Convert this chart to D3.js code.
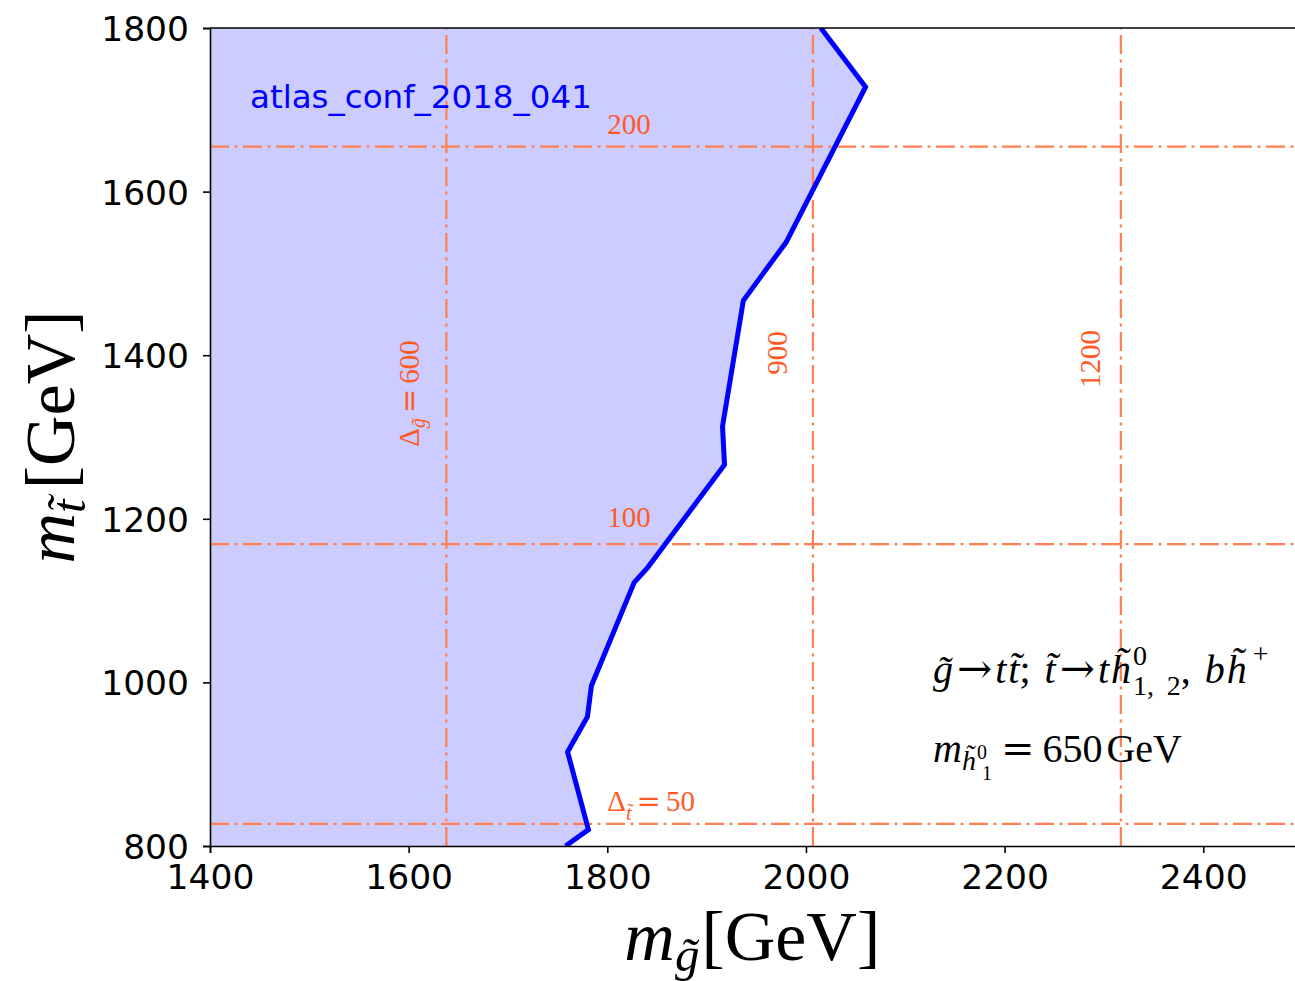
<!DOCTYPE html>
<html>
<head>
<meta charset="utf-8">
<script src="https://cdn.jsdelivr.net/npm/d3@7"></script>
<style>
  body { margin: 0; background: #fff; }
  svg { display: block; }
</style>
</head>
<body>
<svg id="chart" width="1295" height="981"></svg>
<script>
// Axis ticks
const xTicks = [1400, 1600, 1800, 2000, 2200, 2400];
const yTicks = [800, 1000, 1200, 1400, 1600, 1800];

// Exclusion contour (gluino mass, stop mass), top to bottom
const contourGluino = [2015, 2060, 1980, 1937, 1916, 1918, 1841, 1827, 1784, 1780, 1760, 1781, 1758];
const contourStop   = [1800, 1728, 1538, 1467, 1313, 1266, 1141, 1122, 996, 958, 915, 820, 800];

// Constant mass-gap guide lines
const gluinoGapValues = [1638, 2007, 2317];
const gluinoGapNames  = ["600", "900", "1200"];
const gluinoGapLabelX = [1590, 1961, 2276];
const gluinoGapLabelY = [1288, 1376, 1360];

const stopGapValues = [1655, 1169, 827];
const stopGapNames  = ["200", "100", "50"];
const stopGapLabelX = [1800, 1800, 1800];
const stopGapLabelY = [1670, 1190, 843];

const analysisName = "atlas_conf_2018_041";

const svg = d3.select("#chart");
const margin = { left: 210, top: 28 };
const plotW = 1092.6, plotH = 818;

const x = d3.scaleLinear().domain([1400, 2500]).range([margin.left, margin.left + plotW]);
const y = d3.scaleLinear().domain([800, 1800]).range([margin.top + plotH, margin.top]);

const MATH = "'Liberation Serif', 'DejaVu Serif', serif";
const SYM = "'DejaVu Serif', serif";
const SANS = "'DejaVu Sans', sans-serif";
const lineColor = "#ff7f50";
const textColor = "#ff5a26";

svg.append("defs").append("clipPath").attr("id", "plotClip")
  .append("rect")
  .attr("x", margin.left).attr("y", margin.top)
  .attr("width", plotW).attr("height", plotH);

const plot = svg.append("g").attr("clip-path", "url(#plotClip)");

// Excluded region and its boundary
const contour = contourGluino.map((g, i) => [g, contourStop[i]]);
const area = contour.concat([[1400, 800], [1400, 1800]]);
plot.append("path")
  .attr("d", d3.line().x(d => x(d[0])).y(d => y(d[1]))(area) + "Z")
  .attr("fill", "#ccccff")
  .attr("stroke", "none");

// Dash-dot guide lines
const dashPattern = "19,5.5,3,5.5";
plot.selectAll(".vgap").data(gluinoGapValues).join("line")
  .attr("x1", d => x(d)).attr("x2", d => x(d))
  .attr("y1", y(800)).attr("y2", y(1800))
  .attr("stroke", lineColor).attr("stroke-width", 2.2)
  .attr("stroke-dasharray", dashPattern);
plot.selectAll(".hgap").data(stopGapValues).join("line")
  .attr("x1", x(1400)).attr("x2", x(2500))
  .attr("y1", d => y(d)).attr("y2", d => y(d))
  .attr("stroke", lineColor).attr("stroke-width", 2.2)
  .attr("stroke-dasharray", dashPattern);

plot.append("path")
  .attr("d", d3.line().x(d => x(d[0])).y(d => y(d[1]))(contour))
  .attr("fill", "none")
  .attr("stroke", "#0000ff")
  .attr("stroke-width", 5)
  .attr("stroke-linejoin", "miter");

// Helper: math-style text from segments (italic, sub/sup level, relative size, font, dx)
function mathText(sel, parts, size) {
  let cur = 0;
  parts.forEach(p => {
    const rel = p.rel || (p.lvl ? 0.7 : 1);
    const target = p.lvl === "sup" ? -(p.rise || 0.42) * size
                 : p.lvl === "sub" ? (p.drop || 0.22) * size : 0;
    const ts = sel.append("tspan").text(p.t)
      .attr("font-size", size * rel)
      .attr("font-style", p.it ? "italic" : "normal")
      .attr("dy", target - cur);
    if (p.ff) ts.attr("font-family", p.ff);
    if (p.dx) ts.attr("dx", p.dx);
    cur = target;
  });
}

// Labels for the guide lines
const labelSize = 29;
gluinoGapNames.forEach((name, i) => {
  const px = x(gluinoGapLabelX[i]) + 0.69 * labelSize;
  const py = y(gluinoGapLabelY[i]);
  const t = svg.append("text")
    .attr("transform", `translate(${px},${py}) rotate(-90)`)
    .attr("font-family", MATH).attr("fill", textColor);
  if (i === 0) {
    mathText(t, [
      { t: "Δ" },
      { t: "g\u0303", it: true, lvl: "sub" },
      { t: "=", ff: SYM, dx: 5 },
      { t: name, dx: 5 }
    ], labelSize);
  } else {
    t.attr("font-size", labelSize).text(name);
  }
});

stopGapNames.forEach((name, i) => {
  const t = svg.append("text")
    .attr("x", x(stopGapLabelX[i])).attr("y", y(stopGapLabelY[i]))
    .attr("font-family", MATH).attr("fill", textColor);
  if (i === 2) {
    mathText(t, [
      { t: "Δ" },
      { t: "t\u0303", it: true, lvl: "sub", drop: 0.3 },
      { t: "=", ff: SYM, dx: 5 },
      { t: name, dx: 5 }
    ], labelSize);
  } else {
    t.attr("font-size", labelSize).text(name);
  }
});

// Analysis name
svg.append("text")
  .attr("x", 250).attr("y", 108)
  .attr("font-family", SANS).attr("font-size", 32.5)
  .attr("fill", "#0000ff")
  .text(analysisName);

// Process annotation
const annSize = 40;
const ann1 = svg.append("text").attr("x", 933).attr("y", 683)
  .attr("font-family", MATH).attr("fill", "#000");
mathText(ann1, [
  { t: "g\u0303", it: true },
  { t: "→", ff: SYM, rel: 1.05, dx: 4 },
  { t: "t", it: true, dx: 3 },
  { t: "t\u0303", it: true, dx: 2 },
  { t: "; " },
  { t: "t\u0303", it: true, dx: 4 },
  { t: "→", ff: SYM, rel: 1.05, dx: 4 },
  { t: "t", it: true, dx: 3 },
  { t: "h\u0303", it: true, dx: 2 },
  { t: "0", lvl: "sup", rise: 0.45, dx: 2 },
  { t: "1,\u2009 2", lvl: "sub", drop: 0.3, dx: -0.35 * annSize },
  { t: ", " },
  { t: "b", it: true, dx: 4 },
  { t: "h\u0303", it: true, dx: 2 },
  { t: "+", lvl: "sup", rise: 0.5, dx: 6 }
], annSize);

const ann2 = svg.append("text").attr("x", 933).attr("y", 762)
  .attr("font-family", MATH).attr("fill", "#000");
mathText(ann2, [
  { t: "m", it: true },
  { t: "h\u0303", it: true, lvl: "sub", drop: 0.2 },
  { t: "0", lvl: "sup", rise: 0.08, rel: 0.5, dx: 1 },
  { t: "1", lvl: "sub", drop: 0.46, rel: 0.5, dx: -0.25 * annSize * 0.5 },
  { t: "=", ff: SYM, dx: 9 },
  { t: "650", dx: 8 },
  { t: "GeV", dx: 4 }
], annSize);

// Axes
const tickSize = 34.5;
const xAxis = svg.append("g")
  .attr("transform", `translate(0,${margin.top + plotH})`)
  .call(d3.axisBottom(x).tickValues(xTicks).tickFormat(d3.format("d")).tickSizeOuter(0).tickSize(7).tickPadding(12));
const yAxis = svg.append("g")
  .attr("transform", `translate(${margin.left},0)`)
  .call(d3.axisLeft(y).tickValues(yTicks).tickFormat(d3.format("d")).tickSizeOuter(0).tickSize(7).tickPadding(14));
[xAxis, yAxis].forEach(a => {
  a.select(".domain").attr("stroke", "#000").attr("stroke-width", 1.6);
  a.selectAll(".tick line").attr("stroke", "#000").attr("stroke-width", 1.6);
  a.selectAll(".tick text").attr("font-family", SANS).attr("font-size", tickSize).attr("fill", "#000");
});
yAxis.selectAll(".tick text").attr("dy", "0.36em");
// Top and right frame
svg.append("line")
  .attr("x1", margin.left).attr("x2", margin.left + plotW)
  .attr("y1", margin.top).attr("y2", margin.top)
  .attr("stroke", "#000").attr("stroke-width", 1.6);
svg.append("line")
  .attr("x1", margin.left + plotW).attr("x2", margin.left + plotW)
  .attr("y1", margin.top).attr("y2", margin.top + plotH)
  .attr("stroke", "#000").attr("stroke-width", 1.6);

// Axis titles
const axisSize = 70;
const xTitle = svg.append("text")
  .attr("x", margin.left + plotW / 2 - 4).attr("y", 960)
  .attr("text-anchor", "middle")
  .attr("font-family", MATH).attr("fill", "#000");
mathText(xTitle, [
  { t: "m", it: true },
  { t: "g\u0303", it: true, lvl: "sub", drop: 0.15 },
  { t: "[GeV]", dx: 2 }
], axisSize);

const yTitle = svg.append("text")
  .attr("transform", `translate(74,${margin.top + plotH / 2}) rotate(-90)`)
  .attr("text-anchor", "middle")
  .attr("font-family", MATH).attr("fill", "#000");
mathText(yTitle, [
  { t: "m", it: true },
  { t: "t\u0303", it: true, lvl: "sub", drop: 0.15 },
  { t: "[GeV]", dx: 10 }
], axisSize);
</script>
</body>
</html>
